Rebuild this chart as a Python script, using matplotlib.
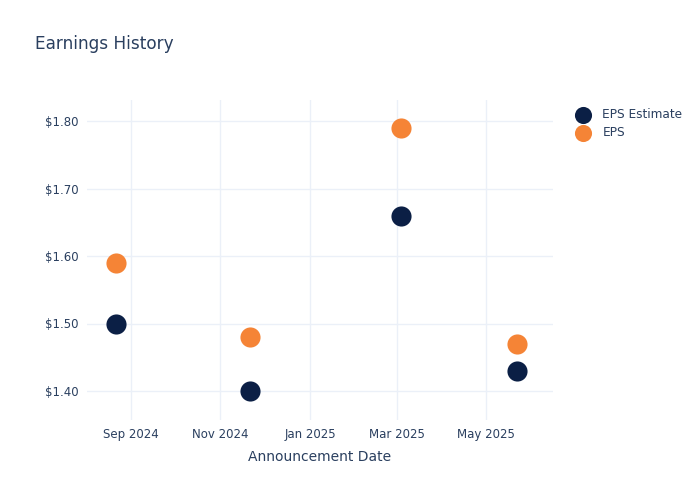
import matplotlib
matplotlib.use("Agg")
import matplotlib.pyplot as plt
import matplotlib.dates as mdates
import numpy as np
from datetime import datetime

dates = ["2024-08-22", "2024-11-21", "2025-03-04", "2025-05-22"]
eps_estimate = [1.50, 1.40, 1.66, 1.43]
eps_actual = [1.59, 1.48, 1.79, 1.47]
tick_dates = ["2024-09-01", "2024-11-01", "2025-01-01", "2025-03-01", "2025-05-01"]
tick_labels = ["Sep 2024", "Nov 2024", "Jan 2025", "Mar 2025", "May 2025"]
y_ticks = [1.40, 1.50, 1.60, 1.70, 1.80]

txt = "#2a3f5f"
plt.rcParams['font.family'] = ['DejaVu Sans']

fig = plt.figure(figsize=(7, 5), dpi=100)
ax = fig.add_axes([87/700, 80/500, (553-87)/700, (400-80)/500])

x = [mdates.date2num(datetime.strptime(d, "%Y-%m-%d")) for d in dates]
ax.scatter(x, eps_estimate, s=210, color="#0b1f45", label="EPS Estimate", zorder=3, linewidths=0)
ax.scatter(x, eps_actual, s=210, color="#f58436", label="EPS", zorder=3, linewidths=0)

xt = [mdates.date2num(datetime.strptime(d, "%Y-%m-%d")) for d in tick_dates]
ax.set_xticks(xt)
ax.set_xticklabels(tick_labels)
ax.set_yticks(y_ticks)
ax.set_yticklabels([f"${v:.2f}" for v in y_ticks])

x0 = xt[0]
ppd = (xt[4]-xt[0])
px_per_day = (486-131)/ppd
ax.set_xlim(x0 - (131-87)/px_per_day, x0 + (553-131)/px_per_day)
ax.set_ylim(1.40 - 29/675, 1.80 + 21/675)

for s in ax.spines.values():
    s.set_visible(False)
ax.grid(True, color="#ebf0f8", linewidth=1)
ax.set_axisbelow(True)
ax.tick_params(length=0, colors=txt, labelsize=8.5, pad=6)
for lab in ax.get_xticklabels() + ax.get_yticklabels():
    lab.set_color(txt)

ax.set_xlabel("Announcement Date", color=txt, fontsize=10, labelpad=6)
fig.text(35/700, 1-44/500, "Earnings History", color=txt, fontsize=12.2, va="center", ha="left")

leg = ax.legend(loc="upper left", bbox_to_anchor=(566/700, 1-103/500), bbox_transform=fig.transFigure,
                frameon=False, fontsize=8.7, handletextpad=0.6, labelspacing=0.45, borderaxespad=0,
                markerscale=0.85)
for t in leg.get_texts():
    t.set_color(txt)

fig.savefig("out.png", dpi=100)
